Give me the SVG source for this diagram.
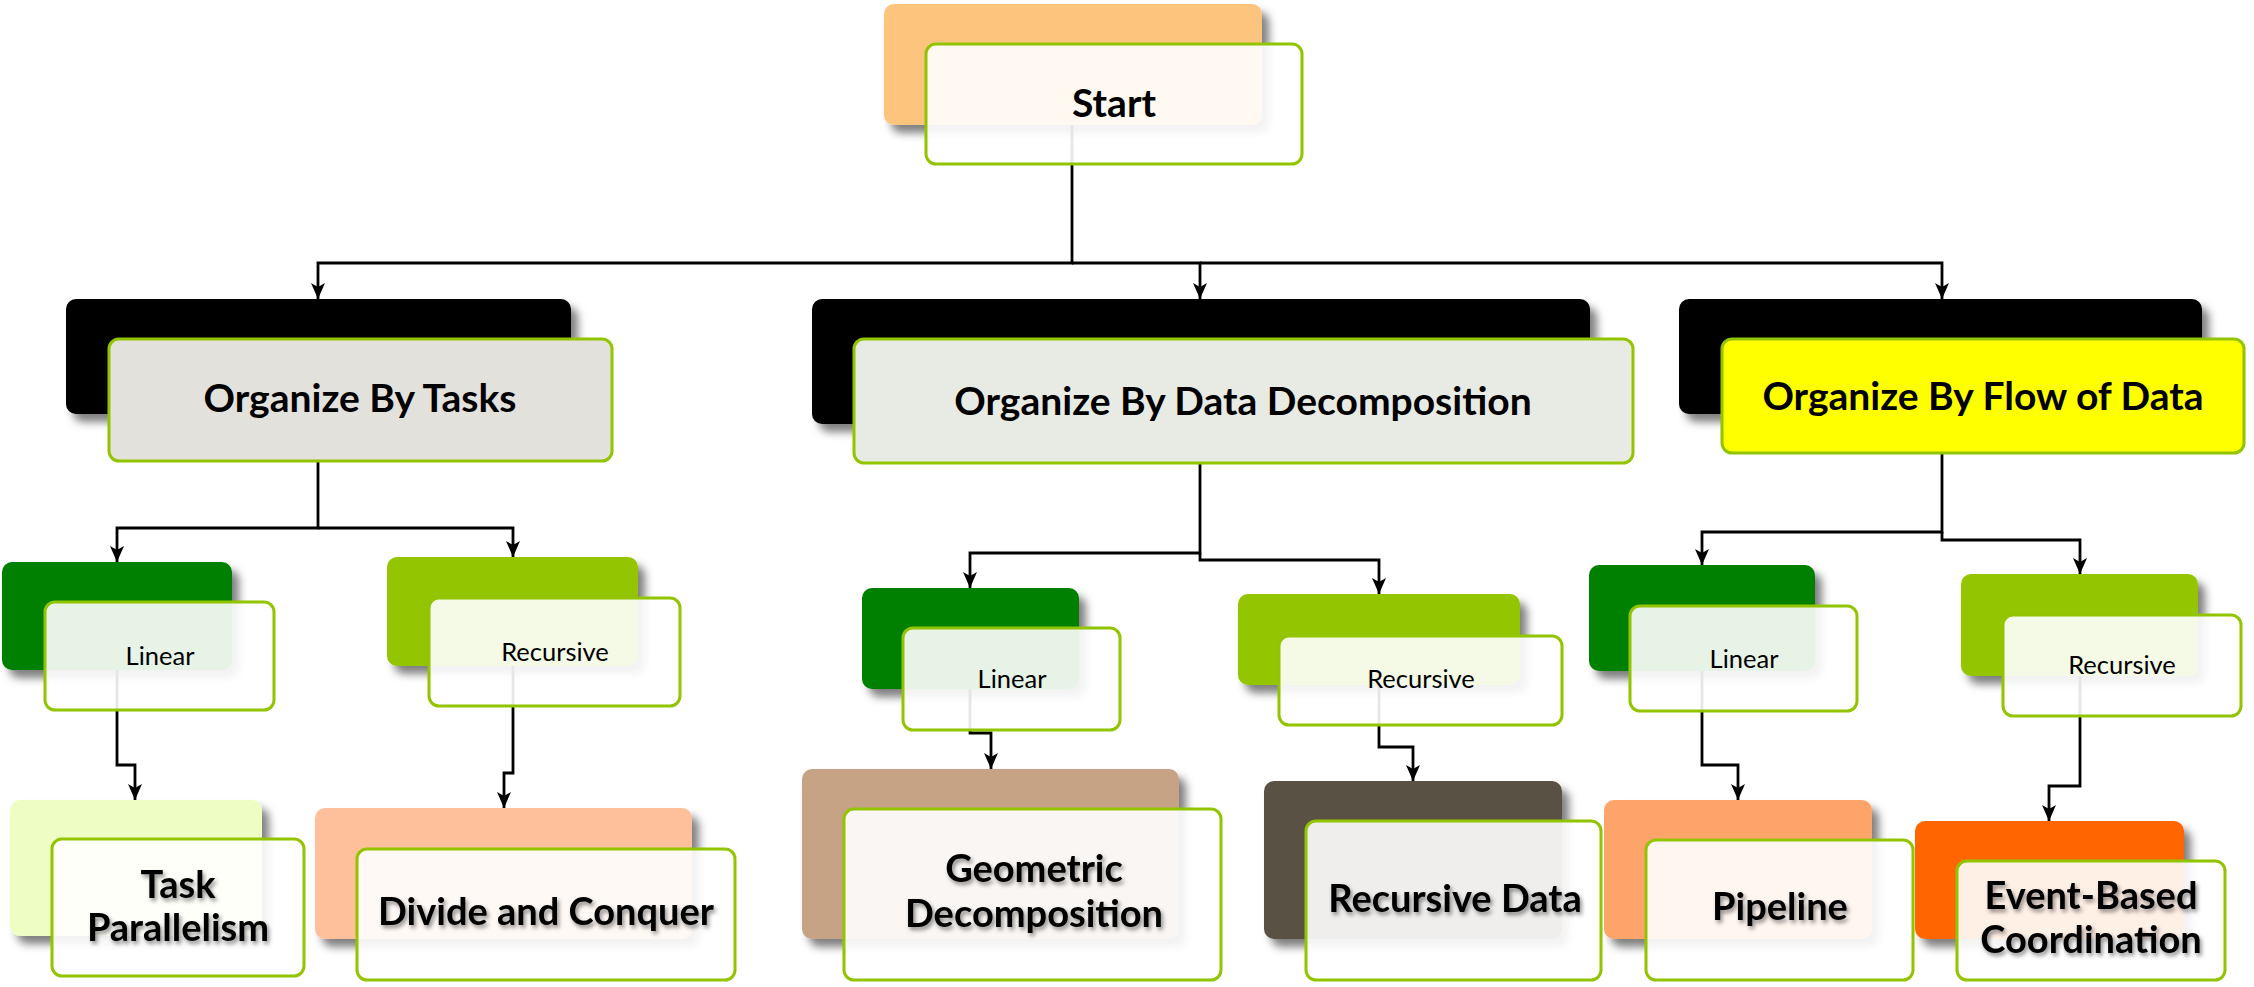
<svg xmlns="http://www.w3.org/2000/svg" width="2254" height="987" viewBox="0 0 2254 987">
<defs>
<filter id="sh" x="-10%" y="-10%" width="130%" height="140%">
<feDropShadow dx="7" dy="8" stdDeviation="4" flood-color="#000" flood-opacity="0.5"/>
</filter>
<filter id="tsh" x="-10%" y="-20%" width="130%" height="150%">
<feDropShadow dx="2" dy="3" stdDeviation="2" flood-color="#000" flood-opacity="0.45"/>
</filter>
<marker id="arr" markerUnits="userSpaceOnUse" markerWidth="16" markerHeight="14" refX="16" refY="7" orient="auto">
<path d="M0,0 L16,7 L0,14 L4,7 z" fill="#000"/>
</marker>
</defs>
<style>
.back{filter:url(#sh);}
.front{stroke:#92C400;stroke-width:3;}
.glass{fill:#fff;fill-opacity:0.9;}
.conn{fill:none;stroke:#000;stroke-width:2.8;marker-end:url(#arr);}
.t1{font-family:Lato,"Open Sans","Liberation Sans",sans-serif;font-weight:bold;font-size:39px;fill:#000;text-anchor:middle;}
.t2{font-family:Lato,"Open Sans","Liberation Sans",sans-serif;font-size:25.5px;fill:#000;text-anchor:middle;}
.t3{font-family:Lato,"Open Sans","Liberation Sans",sans-serif;font-weight:bold;font-size:38px;fill:#000;text-anchor:middle;filter:url(#tsh);}
</style>
<rect width="2254" height="987" fill="#fff"/>

<g id="connectors">
<path class="conn" d="M1072,125 V263 H318 V299"/>
<path class="conn" d="M1072,263 H1200 V299"/>
<path class="conn" d="M1200,263 H1942 V299"/>
<path class="conn" d="M318,414 V528 H117 V562"/>
<path class="conn" d="M318,528 H513 V557"/>
<path class="conn" d="M1200,424 V553 H970 V588"/>
<path class="conn" d="M1200,553 V560 H1379 V594"/>
<path class="conn" d="M1942,414 V532 H1702 V565"/>
<path class="conn" d="M1942,532 V540 H2080 V574"/>
<path class="conn" d="M117,670 V765 H135 V800"/>
<path class="conn" d="M513,666 V773 H504 V808"/>
<path class="conn" d="M970,689 V733 H991 V769"/>
<path class="conn" d="M1379,685 V747 H1413 V781"/>
<path class="conn" d="M1702,671 V765 H1738 V800"/>
<path class="conn" d="M2080,676 V786 H2049 V821"/>
</g>

<g id="start">
<rect class="back" x="884" y="4" width="378" height="121" rx="10" fill="#FDC47D"/>
<rect class="front glass" x="926" y="44" width="376" height="120" rx="10"/>
<text class="t1" x="1114" y="117">Start</text>
</g>

<g id="org-tasks">
<rect class="back" x="66" y="299" width="505" height="115" rx="10" fill="#000"/>
<rect class="front" x="109" y="339" width="503" height="122" rx="10" fill="#E3E1DC"/>
<text class="t1" x="360" y="412">Organize By Tasks</text>
</g>

<g id="org-data">
<rect class="back" x="812" y="299" width="778" height="125" rx="10" fill="#000"/>
<rect class="front" x="854" y="339" width="779" height="124" rx="10" fill="#E8EBE3"/>
<text class="t1" x="1243" y="415">Organize By Data Decomposition</text>
</g>

<g id="org-flow">
<rect class="back" x="1679" y="299" width="523" height="115" rx="10" fill="#000"/>
<rect class="front" x="1722" y="339" width="522" height="114" rx="10" fill="#FFFF00"/>
<text class="t1" x="1983" y="410">Organize By Flow of Data</text>
</g>

<g id="linear-1">
<rect class="back" x="2" y="562" width="230" height="108" rx="10" fill="#008000"/>
<rect class="front glass" x="45" y="602" width="229" height="108" rx="10"/>
<text class="t2" x="160" y="665">Linear</text>
</g>

<g id="recursive-1">
<rect class="back" x="387" y="557" width="251" height="109" rx="10" fill="#93C500"/>
<rect class="front glass" x="429" y="598" width="251" height="108" rx="10"/>
<text class="t2" x="555" y="661">Recursive</text>
</g>

<g id="linear-2">
<rect class="back" x="862" y="588" width="217" height="101" rx="10" fill="#008000"/>
<rect class="front glass" x="903" y="628" width="217" height="102" rx="10"/>
<text class="t2" x="1012" y="688">Linear</text>
</g>

<g id="recursive-2">
<rect class="back" x="1238" y="594" width="282" height="91" rx="10" fill="#93C500"/>
<rect class="front glass" x="1279" y="636" width="283" height="89" rx="10"/>
<text class="t2" x="1421" y="688">Recursive</text>
</g>

<g id="linear-3">
<rect class="back" x="1589" y="565" width="226" height="106" rx="10" fill="#008000"/>
<rect class="front glass" x="1630" y="606" width="227" height="105" rx="10"/>
<text class="t2" x="1744" y="668">Linear</text>
</g>

<g id="recursive-3">
<rect class="back" x="1961" y="574" width="237" height="102" rx="10" fill="#93C500"/>
<rect class="front glass" x="2003" y="615" width="238" height="101" rx="10"/>
<text class="t2" x="2122" y="674">Recursive</text>
</g>

<g id="task-parallelism">
<rect class="back" x="10" y="800" width="252" height="136" rx="10" fill="#EEFDC4"/>
<rect class="front glass" x="52" y="839" width="252" height="137" rx="10"/>
<text class="t3" x="178" y="898">Task</text>
<text class="t3" x="178" y="941">Parallelism</text>
</g>

<g id="divide-conquer">
<rect class="back" x="315" y="808" width="377" height="131" rx="10" fill="#FDC09A"/>
<rect class="front glass" x="357" y="849" width="378" height="131" rx="10"/>
<text class="t3" x="546" y="925">Divide and Conquer</text>
</g>

<g id="geometric">
<rect class="back" x="802" y="769" width="377" height="170" rx="10" fill="#C6A385"/>
<rect class="front glass" x="844" y="809" width="377" height="171" rx="10"/>
<text class="t3" x="1034" y="882">Geometric</text>
<text class="t3" x="1034" y="927">Decomposition</text>
</g>

<g id="recursive-data">
<rect class="back" x="1264" y="781" width="298" height="158" rx="10" fill="#5A5145"/>
<rect class="front glass" x="1306" y="821" width="295" height="159" rx="10"/>
<text class="t3" x="1455" y="912">Recursive Data</text>
</g>

<g id="pipeline">
<rect class="back" x="1604" y="800" width="268" height="139" rx="10" fill="#FDA46A"/>
<rect class="front glass" x="1646" y="840" width="267" height="140" rx="10"/>
<text class="t3" x="1780" y="920">Pipeline</text>
</g>

<g id="event-based">
<rect class="back" x="1915" y="821" width="269" height="118" rx="10" fill="#FF6600"/>
<rect class="front glass" x="1957" y="861" width="268" height="119" rx="10"/>
<text class="t3" x="2091" y="909">Event-Based</text>
<text class="t3" x="2091" y="953">Coordination</text>
</g>
</svg>
